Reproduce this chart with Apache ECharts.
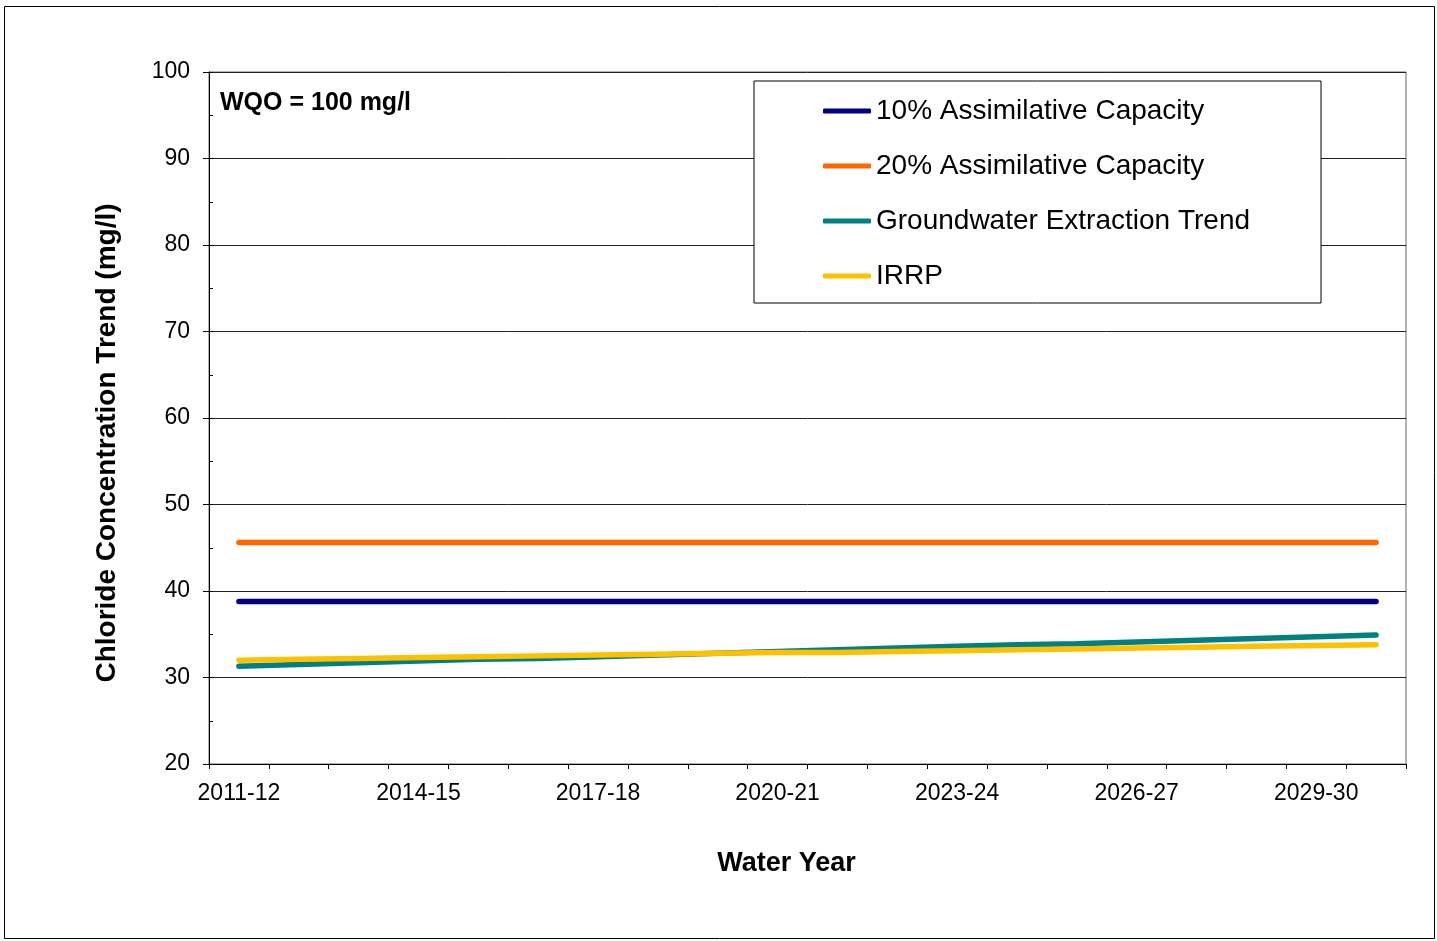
<!DOCTYPE html>
<html>
<head>
<meta charset="utf-8">
<script src="https://cdn.jsdelivr.net/npm/echarts@6/dist/echarts.min.js"></script>
<style>
  html, body { margin: 0; padding: 0; background: #fff; }
  #chartLine { width: 1437px; height: 941px; }
</style>
</head>
<body>
<div id="chartLine"></div>
<script>
// water years on the category axis
const years = ['2011-12', '2012-13', '2013-14', '2014-15', '2015-16', '2016-17', '2017-18',
  '2018-19', '2019-20', '2020-21', '2021-22', '2022-23', '2023-24', '2024-25', '2025-26',
  '2026-27', '2027-28', '2028-29', '2029-30', '2030-31']

// chloride concentration (mg/l)
const assim10 = [38.8, 38.8, 38.8, 38.8, 38.8, 38.8, 38.8, 38.8, 38.8, 38.8,
  38.8, 38.8, 38.8, 38.8, 38.8, 38.8, 38.8, 38.8, 38.8, 38.8]
const assim20 = [45.6, 45.6, 45.6, 45.6, 45.6, 45.6, 45.6, 45.6, 45.6, 45.6,
  45.6, 45.6, 45.6, 45.6, 45.6, 45.6, 45.6, 45.6, 45.6, 45.6]
const gwTrend = [31.3, 31.5, 31.7, 31.9, 32.1, 32.2, 32.4, 32.6, 32.8, 33.0,
  33.2, 33.4, 33.6, 33.8, 33.9, 34.1, 34.3, 34.5, 34.7, 34.9]
const irrp = [32.0, 32.1, 32.2, 32.3, 32.4, 32.5, 32.6, 32.7, 32.8, 32.9,
  32.9, 33.0, 33.1, 33.2, 33.3, 33.4, 33.5, 33.6, 33.7, 33.8]

const seriesNames = ['10% Assimilative Capacity', '20% Assimilative Capacity',
  'Groundwater Extraction Trend', 'IRRP']

const font = 'Arial, "Liberation Sans", sans-serif'

const chartLine = echarts.init(document.getElementById('chartLine'))

function lineSeries (name, data, color) {
  return {
    name: name,
    type: 'line',
    data: data,
    showSymbol: false,
    symbol: 'none',
    silent: true,
    lineStyle: { color: color, width: 5.5, cap: 'round' },
    itemStyle: { color: color }
  }
}

const option = {
  animation: false,
  backgroundColor: '#fff',
  textStyle: { fontFamily: font },
  title: {
    text: 'WQO = 100 mg/l',
    left: 220,
    top: 91,
    padding: 0,
    textStyle: { fontFamily: font, fontSize: 25, fontWeight: 'bold', color: '#000' }
  },
  graphic: [{
    type: 'rect',
    silent: true,
    shape: { x: 4.5, y: 6.5, width: 1430, height: 932 },
    style: { fill: 'none', stroke: '#000', lineWidth: 1 }
  }],
  legend: {
    data: seriesNames,
    orient: 'vertical',
    left: 754,
    top: 81,
    padding: [16, 71, 13, 69],
    itemGap: 27,
    itemWidth: 48,
    itemHeight: 5,
    icon: 'roundRect',
    backgroundColor: '#fff',
    borderColor: '#000',
    borderWidth: 1,
    borderRadius: 0,
    textStyle: { fontFamily: font, fontSize: 28, color: '#000', lineHeight: 28 }
  },
  grid: {
    left: 209,
    right: 31,
    top: 72,
    bottom: 177,
    show: true,
    borderColor: '#666',
    borderWidth: 1,
    backgroundColor: 'transparent'
  },
  xAxis: {
    type: 'category',
    data: years,
    boundaryGap: true,
    name: 'Water Year',
    nameLocation: 'middle',
    nameGap: 86,
    nameTextStyle: { fontFamily: font, fontSize: 27, fontWeight: 'bold', color: '#000', padding: [0, 42, 0, 0] },
    axisLine: { lineStyle: { color: '#000', width: 1 } },
    axisTick: { show: true, interval: 0, length: 5, lineStyle: { color: '#000' } },
    axisLabel: { interval: 2, margin: 18, fontFamily: font, fontSize: 23, color: '#000' },
    splitLine: { show: false }
  },
  yAxis: [
    {
      type: 'value',
      min: 20,
      max: 100,
      interval: 10,
      name: 'Chloride Concentration Trend (mg/l)',
      nameLocation: 'middle',
      nameGap: 88,
      nameTextStyle: { fontFamily: font, fontSize: 28, fontWeight: 'bold', color: '#000', padding: [0, 50, 0, 0] },
      axisLine: { show: true, lineStyle: { color: '#000', width: 1 } },
      axisTick: { show: true, length: 6, lineStyle: { color: '#000' } },
      axisLabel: { margin: 19, padding: [4, 0, 0, 0], fontFamily: font, fontSize: 23, color: '#000' },
      splitLine: { show: true, lineStyle: { color: '#222', width: 1 } }
    },
    {
      // minor ticks at every 5 mg/l, pointing into the plot
      type: 'value',
      position: 'left',
      min: 20,
      max: 100,
      interval: 5,
      axisLine: { show: false },
      axisTick: { show: true, inside: true, length: 4, lineStyle: { color: '#000' } },
      axisLabel: { show: false },
      splitLine: { show: false }
    }
  ],
  series: [
    lineSeries(seriesNames[0], assim10, '#000080'),
    lineSeries(seriesNames[1], assim20, '#FF6600'),
    lineSeries(seriesNames[2], gwTrend, '#008080'),
    lineSeries(seriesNames[3], irrp, '#FFC000')
  ]
}

option && chartLine.setOption(option)
</script>
</body>
</html>
